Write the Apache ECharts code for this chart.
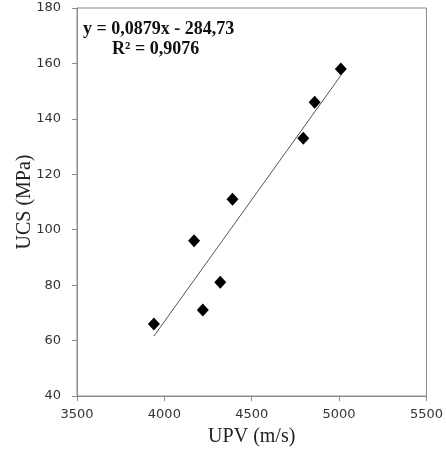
<!DOCTYPE html>
<html>
<head>
<meta charset="utf-8">
<script src="https://cdn.jsdelivr.net/npm/echarts@6/dist/echarts.min.js"></script>
<style>
  html, body { margin: 0; padding: 0; background: #fff; }
  #chart { width: 446px; height: 453px; }
</style>
</head>
<body>
<div id="chart"></div>
<script>
// Ultrasonic pulse velocity vs. uniaxial compressive strength
const upv = [3940, 4170, 4220, 4320, 4390, 4795, 4860, 5010];
const ucs = [66, 96, 71, 81, 111, 133, 146, 158];

// Linear trend fitted to the samples
const slope = 0.0879;
const intercept = -284.73;
const rSquared = 0.9076;

const xTicks = { min: 3500, max: 5500, interval: 500 };
const yTicks = { min: 40, max: 180, interval: 20 };

const points = upv.map((v, i) => [v, ucs[i]]);
const xMin = Math.min(...upv);
const xMax = Math.max(...upv);
const trend = [xMin, xMax].map(x => [x, slope * x + intercept]);

const fmt = n => String(n).replace('.', ',');
const eqLine1 = 'y = ' + fmt(slope) + 'x - ' + fmt(Math.abs(intercept));
const eqLine2 = 'R\u00B2 = ' + fmt(rSquared);

const axisGray = '#8a8a8a';
const chart = echarts.init(document.getElementById('chart'), null, { renderer: 'canvas' });

chart.setOption({
  animation: false,
  backgroundColor: '#fff',
  grid: {
    left: 77, right: 13, top: 8, bottom: 57,
    show: true, borderColor: axisGray, borderWidth: 1, backgroundColor: 'transparent'
  },
  xAxis: {
    type: 'value',
    min: xTicks.min, max: xTicks.max, interval: xTicks.interval,
    name: 'UPV (m/s)',
    nameLocation: 'middle',
    nameGap: 31,
    nameMoveOverlap: false,
    nameTextStyle: { fontFamily: 'Liberation Serif', fontSize: 20, color: '#222' },
    axisLine: { show: true, lineStyle: { color: axisGray, width: 1 } },
    axisTick: { show: true, inside: false, length: 5, lineStyle: { color: axisGray } },
    axisLabel: {
      margin: 12, fontFamily: 'DejaVu Sans', fontSize: 13, color: '#333',
      formatter: v => String(v)
    },
    splitLine: { show: false }
  },
  yAxis: {
    type: 'value',
    min: yTicks.min, max: yTicks.max, interval: yTicks.interval,
    name: 'UCS (MPa)',
    nameLocation: 'middle',
    nameGap: 42,
    nameMoveOverlap: false,
    nameTextStyle: { fontFamily: 'Liberation Serif', fontSize: 20, color: '#222' },
    axisLine: { show: true, lineStyle: { color: axisGray, width: 1 } },
    axisTick: { show: true, inside: false, length: 5, lineStyle: { color: axisGray } },
    axisLabel: {
      margin: 16, fontFamily: 'DejaVu Sans', fontSize: 13, color: '#333',
      formatter: v => String(v)
    },
    splitLine: { show: false }
  },
  graphic: [
    {
      type: 'text', left: 83, top: 20,
      style: { text: eqLine1, font: 'bold 18px "Liberation Serif"', fill: '#111' }
    },
    {
      type: 'text', left: 112, top: 40,
      style: { text: eqLine2, font: 'bold 18px "Liberation Serif"', fill: '#111' }
    }
  ],
  series: [
    {
      type: 'line',
      data: trend,
      symbol: 'none',
      lineStyle: { color: '#555', width: 1 },
      z: 2
    },
    {
      type: 'scatter',
      data: points,
      symbol: 'diamond',
      symbolSize: [12, 13],
      itemStyle: { color: '#000', opacity: 1 },
      z: 3
    }
  ]
});
</script>
</body>
</html>
